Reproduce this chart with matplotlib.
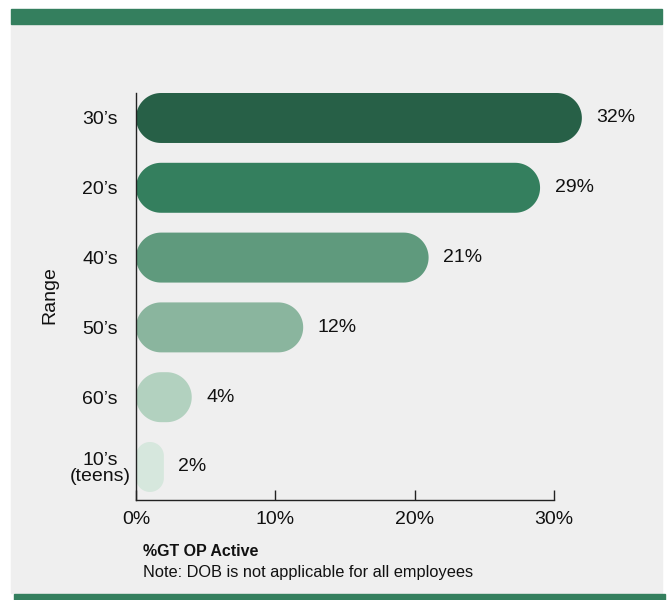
import numpy as np
import matplotlib.pyplot as plt
from matplotlib.patches import Polygon, Rectangle

plt.rcParams['font.family'] = ['Liberation Sans', 'DejaVu Sans']

ranges = ['10\u2019s\n(teens)', '60\u2019s', '50\u2019s', '40\u2019s', '20\u2019s', '30\u2019s']
shares = [2, 4, 12, 21, 29, 32]
colors = ['#d6e7dd', '#b2d1bf', '#8ab59e', '#5f9a7d', '#347f5e', '#276047']

W, H = 669, 600
fig = plt.figure(figsize=(W / 100, H / 100), dpi=100, facecolor='white')

green = '#347f5e'
# page furniture: grey panel with green bands top and bottom
fig.patches.append(Rectangle((11 / W, 1 - 593 / H), 651 / W, 569 / H,
                             transform=fig.transFigure, color='#efefef', zorder=-2))
fig.patches.append(Rectangle((11 / W, 1 - 24 / H), 651 / W, 15 / H,
                             transform=fig.transFigure, color=green, zorder=-2))
fig.patches.append(Rectangle((14 / W, 0), 651 / W, 6 / H,
                             transform=fig.transFigure, color=green, zorder=-2))

ax_l, ax_r, ax_t, ax_b = 136, 554, 93, 500
ax = fig.add_axes([ax_l / W, 1 - ax_b / H, (ax_r - ax_l) / W, (ax_b - ax_t) / H])
ax.set_facecolor('none')
ax.set_zorder(2)

ylo, yhi = -0.473, 5.358
ax.set_xlim(0, 30)
ax.set_ylim(ylo, yhi)

# pixels per data unit, so the pill ends come out as true semicircles
px_x = (ax_r - ax_l) / 30
px_y = (ax_b - ax_t) / (yhi - ylo)
bar_h = 0.716


def pill(x0, x1, yc, h, n=24):
    r = min((x1 - x0) * px_x, h * px_y) / 2
    rx, ry = r / px_x, r / px_y
    y0, y1 = yc - h / 2, yc + h / 2
    corners = [(x1 - rx, y1 - ry, 0), (x0 + rx, y1 - ry, 90),
               (x0 + rx, y0 + ry, 180), (x1 - rx, y0 + ry, 270)]
    pts = []
    for cx, cy, a0 in corners:
        t = np.radians(np.linspace(a0, a0 + 90, n))
        pts.extend(zip(cx + rx * np.cos(t), cy + ry * np.sin(t)))
    return pts


for i, (v, c) in enumerate(zip(shares, colors)):
    ax.add_patch(Polygon(pill(0, v, i, bar_h), closed=True, facecolor=c,
                         edgecolor='none', clip_on=False, zorder=2))
    ax.annotate(f'{v}%', (v, i), xytext=(10.5, 0), textcoords='offset points',
                va='center', ha='left', fontsize=14, color='#111111',
                annotation_clip=False)

for s in ['top', 'right']:
    ax.spines[s].set_visible(False)
for s in ['left', 'bottom']:
    ax.spines[s].set_linewidth(1.0)
    ax.spines[s].set_color('#222222')

ax.set_xticks([0, 10, 20, 30])
ax.set_xticklabels(['0%', '10%', '20%', '30%'])
ax.tick_params(axis='x', direction='in', length=7.5, width=1, color='#222222',
               pad=8, labelsize=14, labelcolor='#111111')

ax.set_yticks(range(len(ranges)))
ax.set_yticklabels(ranges)
ax.tick_params(axis='y', length=0, pad=26, labelsize=14, labelcolor='#111111')
for t in ax.get_yticklabels():
    t.set_horizontalalignment('center')
    t.set_multialignment('center')
    t.set_linespacing(0.95)

fig.text(50 / W, 1 - 295 / H, 'Range', rotation=90, ha='center', va='center',
         fontsize=14, color='#111111')

fig.text(143 / W, 1 - 552 / H, '%GT OP Active', ha='left', va='center',
         fontsize=11.5, fontweight='bold', color='#111111')
fig.text(143 / W, 1 - 572 / H, 'Note: DOB is not applicable for all employees',
         ha='left', va='center', fontsize=11.8, color='#111111')

fig.savefig('out.png', dpi=100, facecolor='white')
